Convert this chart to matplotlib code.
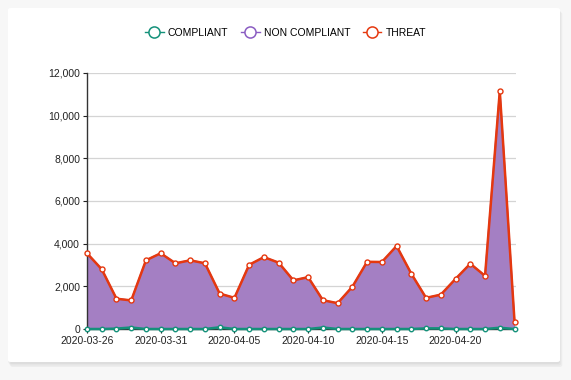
import matplotlib
matplotlib.use("Agg")
import matplotlib.pyplot as plt
import matplotlib.dates as mdates
from matplotlib.patches import FancyBboxPatch
from matplotlib.lines import Line2D
import pandas as pd

plt.rcParams['font.family'] = ['Liberation Sans', 'DejaVu Sans']

dates = pd.date_range("2020-03-26", "2020-04-24", freq="D")
threat = [3550, 2800, 1420, 1340, 3220, 3550, 3080, 3220, 3080, 1660,
          1460, 3010, 3370, 3110, 2280, 2430, 1350, 1210, 1980, 3150,
          3140, 3890, 2590, 1460, 1610, 2350, 3060, 2490, 11150, 350]
non_compliant = [3550, 2800, 1420, 1340, 3220, 3550, 3080, 3220, 3080, 1660,
                 1460, 3010, 3370, 3110, 2280, 2430, 1350, 1210, 1980, 3150,
                 3140, 3890, 2590, 1460, 1610, 2350, 3060, 2490, 11150, 350]
compliant = [0, 0, 20, 70, 0, 0, 0, 0, 0, 80,
             0, 0, 0, 0, 0, 0, 70, 0, 0, 0,
             0, 0, 0, 30, 30, 0, 0, 0, 60, 0]
series_names = ["COMPLIANT", "NON COMPLIANT", "THREAT"]
yticks = [0, 2000, 4000, 6000, 8000, 10000, 12000]

c_green = "#14917a"
c_purple = "#8a5cc2"
c_fill = "#a47fc3"
c_red = "#e5380f"

fig = plt.figure(figsize=(5.71, 3.8), dpi=100)
fig.patch.set_facecolor("#f7f7f7")
# card with soft shadow
for i, a in enumerate([0.03, 0.03, 0.04]):
    fig.patches.append(FancyBboxPatch((8/571 + i*0.002, 1 - 364/380 - i*0.004), 552/571, 355/380,
                                      boxstyle="round,pad=0,rounding_size=0.005",
                                      transform=fig.transFigure, facecolor="black",
                                      alpha=a, edgecolor="none", zorder=-3))
fig.patches.append(FancyBboxPatch((8/571, 1 - 362/380), 552/571, 354/380,
                                  boxstyle="round,pad=0,rounding_size=0.005",
                                  transform=fig.transFigure, facecolor="white",
                                  edgecolor="none", zorder=-2))

ax = fig.add_axes([87/571, 1 - 329/380, (516 - 87)/571, (329 - 73)/380])
ax.set_zorder(2)
ax.set_facecolor("none")
x = mdates.date2num(dates)

ax.fill_between(x, non_compliant, color=c_fill, zorder=2, linewidth=0)
ax.plot(x, non_compliant, color=c_purple, lw=1.2, zorder=3)
ax.fill_between(x, compliant, color=c_green, alpha=0.3, zorder=3, linewidth=0)
ax.plot(x, compliant, color=c_green, lw=1.8, marker="o", ms=3.2, mfc="white",
        mec=c_green, mew=1, zorder=5, clip_on=False)
ax.plot(x, threat, color=c_red, lw=1.8, marker="o", ms=3.6, mfc="white",
        mec=c_red, mew=1, zorder=6, clip_on=False)

ax.set_ylim(0, 12000)
ax.set_xlim(x[0], x[-1] + 0.1)
ax.set_yticks(yticks)
ax.yaxis.set_major_formatter(matplotlib.ticker.FuncFormatter(lambda v, p: f"{int(v):,}"))
ax.set_xticks(x[::5])
ax.set_xticklabels([d.strftime("%Y-%m-%d") for d in dates[::5]])
ax.grid(axis="y", color="#d4d4d4", lw=0.9, zorder=1)
ax.set_axisbelow(True)
for s in ["top", "right"]:
    ax.spines[s].set_visible(False)
ax.spines["left"].set_color("#333333")
ax.spines["bottom"].set_color("#333333")
ax.spines["left"].set_linewidth(1)
ax.spines["bottom"].set_linewidth(1)
ax.tick_params(axis="both", labelsize=7.5, colors="#222222", length=3, width=0.8, pad=2)

handles = [Line2D([], [], color=c, lw=1, marker="o", ms=8, mfc="white", mec=c, mew=1.1)
           for c in [c_green, c_purple, c_red]]
fig.legend(handles, series_names, loc="center", bbox_to_anchor=(0.5, 1 - 33/380),
           ncol=3, frameon=False, fontsize=7.5, handlelength=1.8, handletextpad=0.4,
           columnspacing=1.2)

fig.savefig("out.png", dpi=100, facecolor=fig.get_facecolor())
